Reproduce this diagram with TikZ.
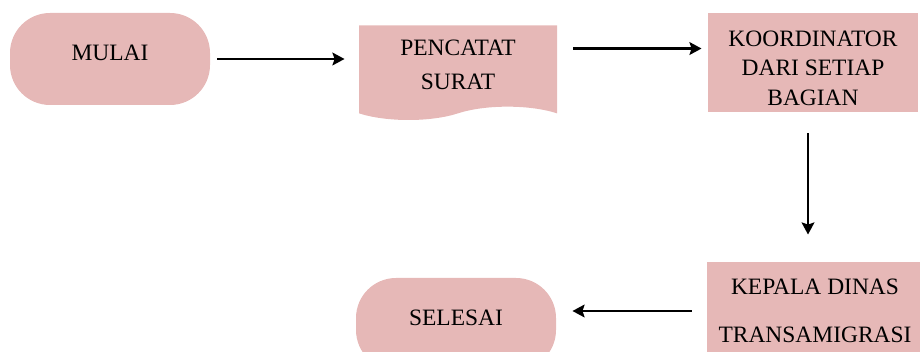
\documentclass[tikz,border=0pt]{standalone}
\usepackage{fontspec}
\setmainfont{Liberation Serif}
\usepackage[dvipsnames]{xcolor}
\usetikzlibrary{arrows.meta}
\usetikzlibrary{shapes.symbols}
\definecolor{merahmuda}{HTML}{E6B8B7}

\begin{document}
\begin{tikzpicture}[->,>={Stealth[length=9pt,width=9.5pt,inset=1.5pt]},line width=2.2pt,x=0.75pt,y=-0.75pt]
  \tikzstyle{every node}=[font=\fontsize{17.6}{22}\selectfont,align=center,text=black]
  \tikzstyle{terminal}=[fill=merahmuda,draw=none,rounded corners=30pt,minimum width=150pt,minimum height=69pt,text depth=10pt]
  \tikzstyle{proses}=[fill=merahmuda,draw=none,minimum width=157.5pt,minimum height=74pt]
  \tikzstyle{dokumen}=[tape,tape bend top=none,tape bend bottom=in and out,tape bend height=10pt,fill=merahmuda,draw=none,minimum width=148.5pt,minimum height=71pt,text depth=2pt]

  \useasboundingbox (0,0) rectangle (920,352);
  \clip (0,0) rectangle (920,352);

  \node[terminal] (mulai)       at (110,59)   {MULAI};
  \node[dokumen]  (pencatat)    at (458,66)   {PENCATAT\\[3pt]SURAT};
  \node[proses,text height=64pt,text depth=0pt] (koordinator) at (813,62.5) {KOORDINATOR\\DARI SETIAP\\BAGIAN};
  \node[proses,minimum width=162pt,minimum height=73.5pt] (kepala) at (815,311) {KEPALA DINAS\\[14pt]TRANSAMIGRASI};
  \node[terminal] (selesai)     at (456,324)  {SELESAI};

  \draw[shorten <=4.5pt,shorten >=9.75pt] (mulai.east) -- (mulai.east -| pencatat.west);
  \draw[shorten <=11.25pt,shorten >=3.75pt] ([yshift=-18.5pt]pencatat.north east) coordinate (p) -- (p -| koordinator.west);
  \draw[shorten <=15pt,shorten >=19.5pt] ([xshift=-3.75pt]koordinator.south) coordinate (k) -- (k |- kepala.north);
  \draw[shorten <=10.5pt,shorten >=11.25pt] (kepala.west) -- (kepala.west -| selesai.east);
\end{tikzpicture}
\end{document}
